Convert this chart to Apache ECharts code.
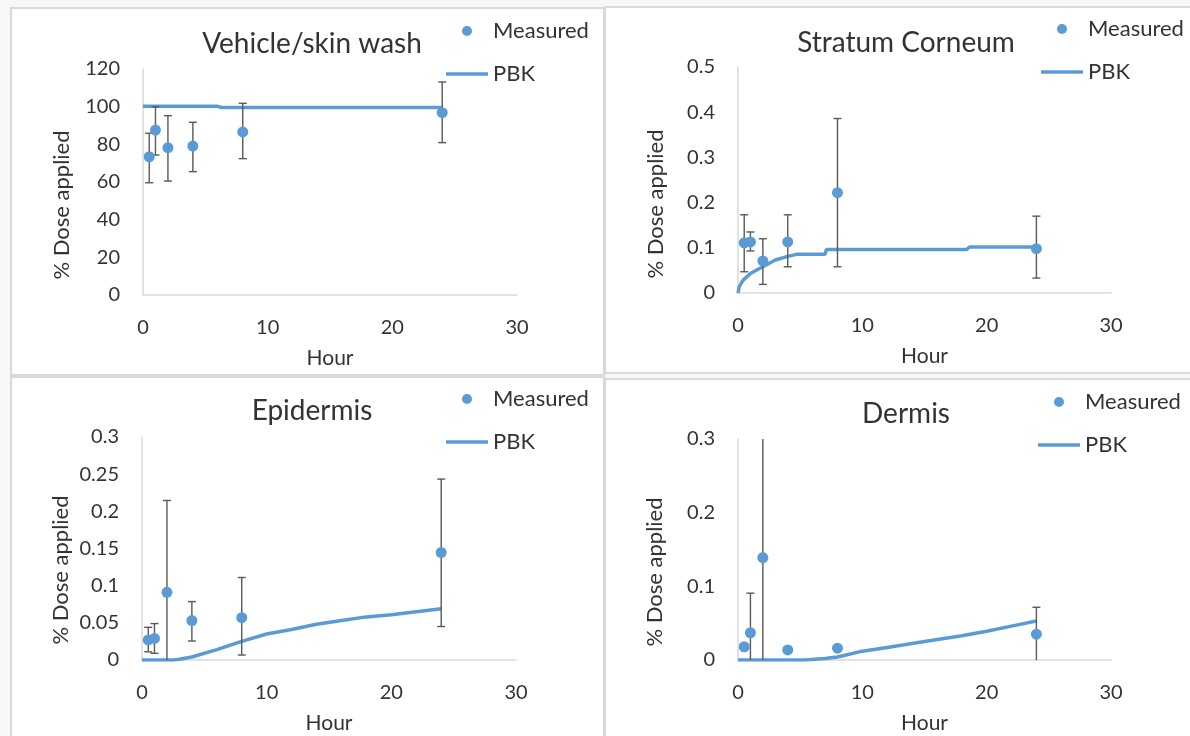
<!DOCTYPE html>
<html>
<head>
<meta charset="utf-8">
<script src="https://cdn.jsdelivr.net/npm/echarts@6/dist/echarts.min.js"></script>
<style>
  html, body { margin: 0; padding: 0; background: #f7f7f9; }
  #chart { width: 1190px; height: 736px; }
</style>
</head>
<body>
<div id="chart"></div>
<script>
// sampling times (h)
const hours = [0.5, 1, 2, 4, 8, 24]

// Vehicle/skin wash
const washMean = [73.4, 87.6, 78.2, 79.1, 86.6, 96.8]
const washLow = [59.6, 74.3, 60.5, 65.5, 72.4, 80.9]
const washHigh = [85.9, 100, 95.2, 91.7, 101.8, 113.1]
const washPbk = [[0, 100.2], [6, 100.2], [6.3, 99.5], [24, 99.5]]

// Stratum Corneum
const scMean = [0.111, 0.113, 0.071, 0.113, 0.222, 0.098]
const scLow = [0.047, 0.093, 0.019, 0.058, 0.058, 0.033]
const scHigh = [0.173, 0.135, 0.120, 0.173, 0.386, 0.170]
const scPbk = [[0, 0], [0.1, 0.014], [0.4, 0.028], [1, 0.043], [1.5, 0.051], [2, 0.058],
  [3, 0.073], [4, 0.081], [4.7, 0.0855], [7, 0.0855], [7.1, 0.096], [18.4, 0.096],
  [18.6, 0.1015], [24, 0.1015]]

// Epidermis
const epiMean = [0.027, 0.029, 0.091, 0.053, 0.057, 0.1446]
const epiLow = [0.011, 0.009, -0.03, 0.0256, 0.0067, 0.045]
const epiHigh = [0.044, 0.049, 0.2146, 0.0786, 0.111, 0.2434]
const epiPbk = [[0, 0], [2.5, 0], [3, 0.001], [4, 0.004], [6, 0.014], [8, 0.025],
  [10, 0.035], [12, 0.041], [14, 0.048], [16, 0.053], [18, 0.058], [20, 0.061],
  [22, 0.065], [24, 0.069]]

// Dermis
const derMean = [0.018, 0.037, 0.139, 0.0136, 0.016, 0.035]
const derLow = [0.015, -0.02, -0.03, 0.0106, 0.013, -0.02]
const derHigh = [0.021, 0.0907, 0.45, 0.0166, 0.019, 0.0716]
const derPbk = [[0, 0], [5.4, 0], [7, 0.002], [8, 0.004], [10, 0.012], [12, 0.017],
  [15, 0.025], [18, 0.033], [20, 0.039], [22, 0.046], [24, 0.053]]

const titles = ['Vehicle/skin wash', 'Stratum Corneum', 'Epidermis', 'Dermis']
const yMax = [120, 0.5, 0.3, 0.3]
const yStep = [20, 0.1, 0.05, 0.1]

const panels = [
  { mean: washMean, low: washLow, high: washHigh, pbk: washPbk },
  { mean: scMean, low: scLow, high: scHigh, pbk: scPbk },
  { mean: epiMean, low: epiLow, high: epiHigh, pbk: epiPbk },
  { mean: derMean, low: derLow, high: derHigh, pbk: derPbk }
]

const FONT = 'Lato'
const BLUE = '#5b9bd5'
const TXT = '#333'

const grids = [
  { left: 143, top: 69, width: 374, height: 226 },
  { left: 738, top: 67, width: 373, height: 226 },
  { left: 142, top: 437, width: 374, height: 223 },
  { left: 738, top: 439, width: 373, height: 221 }
]
const titlePos = [[307, 25], [901, 24], [307, 392], [901, 395]]
const legendPos = [[446, 20], [1041, 18], [446, 388], [1038, 391]]
const yNamePos = [[62, 205], [656, 204], [61, 570], [655, 572]]
const boxes = [[11, 8, 593, 367], [605, 7, 600, 366], [11, 377, 593, 370], [605, 379, 600, 370]]

const chart = echarts.init(document.getElementById('chart'))

const option = {
  backgroundColor: '#f7f7f9',
  animation: false,
  title: [],
  legend: [],
  grid: grids,
  xAxis: [],
  yAxis: [],
  series: [],
  graphic: []
}

boxes.forEach(b => {
  option.graphic.push({
    type: 'rect',
    z: -10,
    shape: { x: b[0], y: b[1], width: b[2], height: b[3] },
    style: { fill: '#fff', stroke: '#d9d9d9', lineWidth: 2 }
  })
})

panels.forEach((p, i) => {
  option.title.push({
    text: titles[i],
    left: titlePos[i][0],
    top: titlePos[i][1],
    textAlign: 'center',
    textStyle: { fontFamily: FONT, fontSize: 28, fontWeight: 'normal', color: TXT }
  })
  option.legend.push({
    left: legendPos[i][0],
    top: legendPos[i][1],
    padding: 0,
    orient: 'vertical',
    itemWidth: 42,
    itemHeight: 10,
    itemGap: 21,
    symbolKeepAspect: true,
    textStyle: { fontFamily: FONT, fontSize: 22, color: TXT },
    data: [
      { name: 'Measured', icon: 'circle' },
      { name: 'PBK', icon: 'path://M0,0H42V3.5H0Z' }
    ],
    selectedMode: false
  })
  option.graphic.push({
    type: 'text',
    x: yNamePos[i][0],
    y: yNamePos[i][1],
    rotation: Math.PI / 2,
    style: {
      text: '% Dose applied',
      font: '22px ' + FONT,
      fill: TXT,
      align: 'center',
      verticalAlign: 'middle'
    }
  })
  option.xAxis.push({
    gridIndex: i,
    type: 'value',
    min: 0,
    max: 30,
    interval: 10,
    name: 'Hour',
    nameLocation: 'middle',
    nameGap: 53,
    nameTextStyle: { fontFamily: FONT, fontSize: 21, color: TXT },
    axisLine: { show: true, lineStyle: { color: '#d9d9d9', width: 1.5 } },
    axisTick: { show: false },
    splitLine: { show: false },
    axisLabel: { fontFamily: FONT, fontSize: 20, color: TXT, margin: 23 }
  })
  option.yAxis.push({
    gridIndex: i,
    type: 'value',
    min: 0,
    max: yMax[i],
    interval: yStep[i],
    axisLine: { show: true, lineStyle: { color: '#d9d9d9', width: 1.5 } },
    axisTick: { show: false },
    splitLine: { show: false },
    axisLabel: { fontFamily: FONT, fontSize: 20, color: TXT, margin: 23 }
  })

  // error bars
  option.series.push({
    type: 'custom',
    name: 'err' + i,
    xAxisIndex: i,
    yAxisIndex: i,
    clip: true,
    z: 3,
    data: hours.map((h, k) => [h, p.low[k], p.high[k]]),
    renderItem: (params, api) => {
      const lo = api.coord([api.value(0), api.value(1)])
      const hi = api.coord([api.value(0), api.value(2)])
      const cap = 4
      const st = { stroke: '#595959', lineWidth: 1.4 }
      return {
        type: 'group',
        children: [
          { type: 'line', shape: { x1: lo[0], y1: lo[1], x2: hi[0], y2: hi[1] }, style: st },
          { type: 'line', shape: { x1: lo[0] - cap, y1: lo[1], x2: lo[0] + cap, y2: lo[1] }, style: st },
          { type: 'line', shape: { x1: hi[0] - cap, y1: hi[1], x2: hi[0] + cap, y2: hi[1] }, style: st }
        ]
      }
    }
  })
  option.series.push({
    type: 'line',
    name: 'PBK',
    xAxisIndex: i,
    yAxisIndex: i,
    symbol: 'none',
    z: 2,
    lineStyle: { color: BLUE, width: 3.5 },
    itemStyle: { color: BLUE },
    data: p.pbk
  })
  option.series.push({
    type: 'scatter',
    name: 'Measured',
    xAxisIndex: i,
    yAxisIndex: i,
    symbol: 'circle',
    symbolSize: 11,
    z: 4,
    itemStyle: { color: BLUE, opacity: 1 },
    data: hours.map((h, k) => [h, p.mean[k]])
  })
})

chart.setOption(option)
</script>
</body>
</html>
